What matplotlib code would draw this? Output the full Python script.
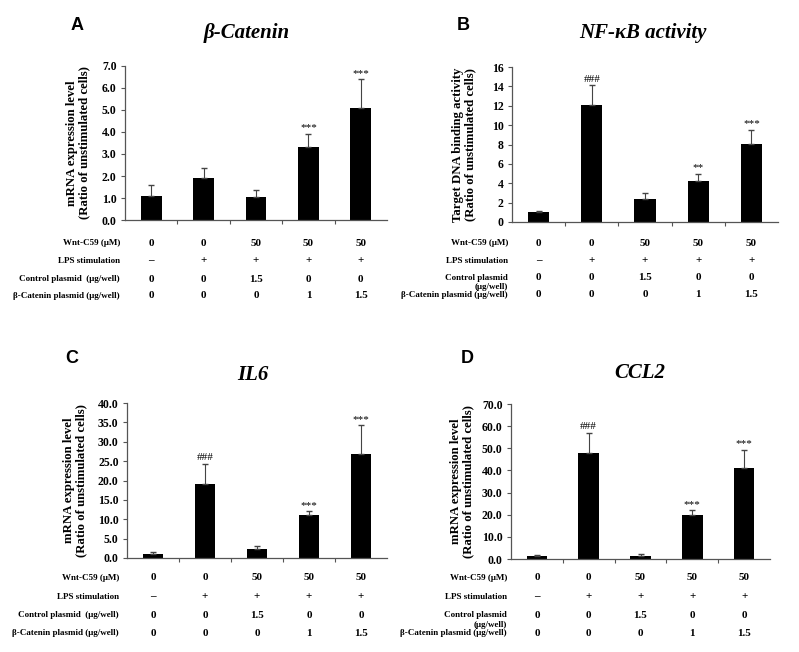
#four bar panels (A-D) with a treatment table under each one
import numpy as np
import matplotlib
matplotlib.use("Agg")
from matplotlib import pyplot as plt
from matplotlib import transforms

#treatment table, same for all four panels
groups = [0, 1, 2, 3, 4]
wnt_c59 = ['0', '0', '50', '50', '50']
lps = ['\u2013', '+', '+', '+', '+']
control_plasmid = ['0', '0', '1.5', '0', '0']
bcat_plasmid = ['0', '0', '0', '1', '1.5']

#bar heights and upper error
bcat_mean = [1.08, 1.9, 1.05, 3.32, 5.1]
bcat_err = [0.5, 0.45, 0.3, 0.6, 1.3]
bcat_marks = ['', '', '', '***', '***']

nfkb_mean = [1.0, 12.1, 2.4, 4.2, 8.05]
nfkb_err = [0.15, 2.0, 0.6, 0.8, 1.45]
nfkb_marks = ['', '###', '', '**', '***']

il6_mean = [1.0, 19.2, 2.4, 11.0, 26.8]
il6_err = [0.5, 5.1, 0.6, 1.1, 7.4]
il6_marks = ['', '###', '', '***', '***']

ccl2_mean = [1.2, 48.0, 1.3, 19.8, 41.2]
ccl2_err = [0.6, 9.0, 0.8, 2.2, 8.1]
ccl2_marks = ['', '###', '', '***', '***']

W, H = 799, 652
fig = plt.figure(figsize=(W/100, H/100), dpi=100)
serif = 'Liberation Serif'


def panel(box, mean, err, marks, ymax, ystep, fmt, title, letter, ylabel,
          rows_y, lab_x, ylab_x, title_xy, letter_xy, split_control):
    left, right, top, bottom = box
    ax = fig.add_axes([left/W, 1-bottom/H, (right-left)/W, (bottom-top)/H])
    ax.bar(groups, mean, width=0.4, color='black', zorder=2)
    ax.errorbar(groups, mean, yerr=[np.zeros(5), err], fmt='none',
                ecolor='#444444', elinewidth=0.8, capsize=2.5, zorder=3)
    for g, m, e, s in zip(groups, mean, err, marks):
        if s:
            ax.annotate(s, (g, m+e), xytext=(0, 1), textcoords='offset points',
                        ha='center', va='bottom', fontsize=8,
                        family=serif, color='black')
    ax.set_xlim(-0.5, 4.5)
    ax.set_ylim(0, ymax)
    ax.set_yticks(np.arange(0, ymax+0.01, ystep))
    ax.set_yticklabels([fmt % v for v in np.arange(0, ymax+0.01, ystep)],
                       family=serif, fontweight='bold', fontsize=8.5)
    ax.set_xticks([0.5, 1.5, 2.5, 3.5])
    ax.set_xticklabels([])
    ax.tick_params(axis='x', length=3, color='#555555')
    ax.tick_params(axis='y', length=3, color='#555555', pad=3)
    for sp in ['top', 'right']:
        ax.spines[sp].set_visible(False)
    for sp in ['left', 'bottom']:
        ax.spines[sp].set_color('#555555')
        ax.spines[sp].set_linewidth(0.9)

    #y label, title, letter
    fig.text(ylab_x/W, 1-(top+bottom)/2/H, ylabel, rotation=90, ha='center',
             va='center', family=serif, fontweight='bold', fontsize=9.2,
             linespacing=1.0)
    fig.text(title_xy[0]/W, 1-title_xy[1]/H, title, ha='center', va='center',
             family=serif, fontweight='bold', style='italic', fontsize=15)
    fig.text(letter_xy[0]/W, 1-letter_xy[1]/H, letter, ha='center',
             va='center', family='Liberation Sans', fontweight='bold',
             fontsize=13)

    #table under the axes
    tr = transforms.blended_transform_factory(ax.transData, fig.transFigure)
    if split_control:
        labels = ['Wnt-C59 (\u03bcM)', 'LPS stimulation', 'Control plasmid',
                  '\u03b2-Catenin plasmid (\u03bcg/well)']
    else:
        labels = ['Wnt-C59 (\u03bcM)', 'LPS stimulation',
                  'Control plasmid  (\u03bcg/well)',
                  '\u03b2-Catenin plasmid (\u03bcg/well)']
    rows = [wnt_c59, lps, control_plasmid, bcat_plasmid]
    for lab, row, y in zip(labels, rows, rows_y):
        fig.text(lab_x/W, 1-y/H, lab, ha='right', va='center', family=serif,
                 fontweight='bold', fontsize=6.5)
        for g, v in zip(groups, row):
            ax.text(g, 1-y/H, v, transform=tr, ha='center', va='center',
                    family=serif, fontweight='bold', fontsize=8)
    if split_control:
        fig.text(lab_x/W, 1-(rows_y[3]-8)/H, '(\u03bcg/well)', ha='right',
                 va='center', family=serif, fontweight='bold', fontsize=6.5)
    return ax


mrna = 'mRNA expression level\n(Ratio of unstimulated cells)'

panel((125, 387, 66, 220), bcat_mean, bcat_err, bcat_marks, 7, 1, '%.1f',
      '\u03b2-Catenin', 'A', mrna, [243, 261, 279, 296], 120, 78,
      (247, 33), (77, 25), False)
panel((512, 778, 67, 222), nfkb_mean, nfkb_err, nfkb_marks, 16, 2, '%d',
      'NF-\u03baB activity', 'B',
      'Target DNA binding activity\n(Ratio of unstimulated cells)',
      [243, 261, 278, 295], 508, 464, (643, 33), (463, 25), True)
panel((127, 387, 403, 558), il6_mean, il6_err, il6_marks, 40, 5, '%.1f',
      'IL6', 'C', mrna, [578, 597, 615, 633], 119, 75,
      (253, 375), (72, 358), False)
panel((511, 770, 404, 559), ccl2_mean, ccl2_err, ccl2_marks, 70, 10, '%.1f',
      'CCL2', 'D', mrna, [578, 597, 615, 633], 507, 462,
      (640, 373), (467, 358), True)

plt.savefig('out.png', dpi=100)
